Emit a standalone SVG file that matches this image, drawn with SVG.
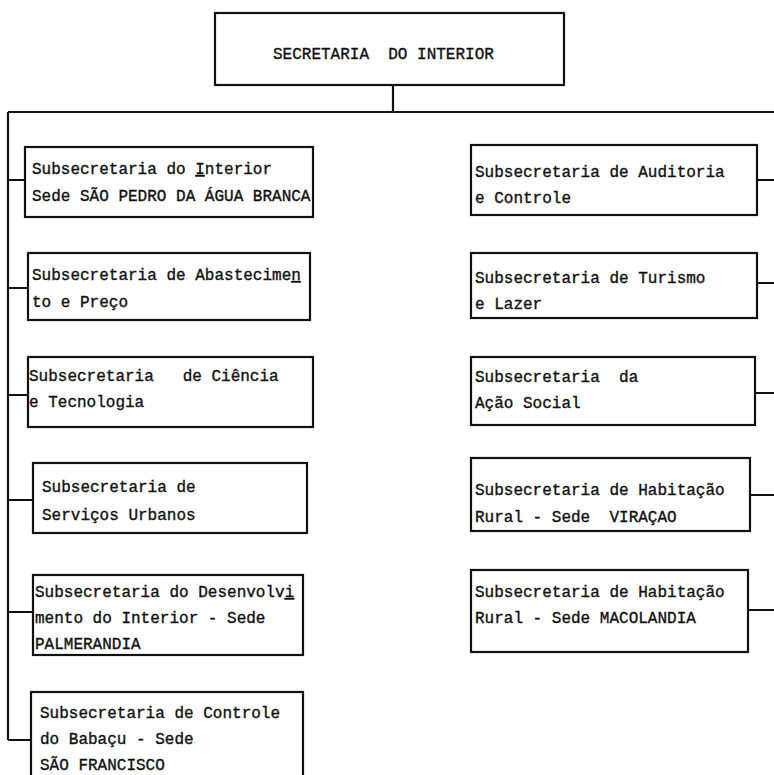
<svg xmlns="http://www.w3.org/2000/svg" width="774" height="775" viewBox="0 0 774 775">
<style>
.box{fill:#fff;stroke:#111;stroke-width:2.2}
.ln{fill:none;stroke:#111;stroke-width:2.2}
text{font-family:"Liberation Mono","DejaVu Sans Mono",monospace;font-size:16px;fill:#111;stroke:#111;stroke-width:0.35}
</style>
<rect width="774" height="775" fill="#fff"/>
<g id="connectors">
<path class="ln" d="M393,85 V112 M8,112 H774 M8,112 V740"/>
<path class="ln" d="M8,180 H25 M8,288 H28 M8,395 H28 M8,500 H33 M8,612 H33 M8,740 H31"/>
<path class="ln" d="M757,180 H774 M757,283 H774 M755,393 H774 M750,495 H774 M748,610 H774"/>
</g>
<g id="n0"><rect class="box" x="215" y="13" width="349" height="72"/><text x="273" y="59" xml:space="preserve">SECRETARIA  DO INTERIOR</text></g>
<g id="l1"><rect class="box" x="25" y="147" width="288" height="70"/><text x="32" y="174">Subsecretaria do <tspan text-decoration="underline">I</tspan>nterior</text><text x="32" y="201">Sede SÃO PEDRO DA ÁGUA BRANCA</text></g>
<g id="l2"><rect class="box" x="28" y="253" width="282" height="67"/><text x="32" y="280">Subsecretaria de Abastecime<tspan text-decoration="underline">n</tspan></text><text x="32" y="307">to e Preço</text></g>
<g id="l3"><rect class="box" x="28" y="357" width="285" height="70"/><text x="29" y="381" xml:space="preserve">Subsecretaria   de Ciência</text><text x="29" y="407">e Tecnologia</text></g>
<g id="l4"><rect class="box" x="33" y="463" width="274" height="70"/><text x="42" y="492">Subsecretaria de</text><text x="42" y="520">Serviços Urbanos</text></g>
<g id="l5"><rect class="box" x="33" y="575" width="270" height="80"/><text x="35" y="597">Subsecretaria do Desenvolv<tspan text-decoration="underline">i</tspan></text><text x="35" y="623">mento do Interior - Sede</text><text x="35" y="649">PALMERANDIA</text></g>
<g id="l6"><rect class="box" x="31" y="692" width="272" height="95"/><text x="40" y="718">Subsecretaria de Controle</text><text x="40" y="744">do Babaçu - Sede</text><text x="40" y="770">SÃO FRANCISCO</text></g>
<g id="r1"><rect class="box" x="471" y="145" width="286" height="70"/><text x="475" y="177">Subsecretaria de Auditoria</text><text x="475" y="203">e Controle</text></g>
<g id="r2"><rect class="box" x="471" y="253" width="286" height="65"/><text x="475" y="283">Subsecretaria de Turismo</text><text x="475" y="309">e Lazer</text></g>
<g id="r3"><rect class="box" x="471" y="357" width="284" height="68"/><text x="475" y="382" xml:space="preserve">Subsecretaria  da</text><text x="475" y="408">Ação Social</text></g>
<g id="r4"><rect class="box" x="471" y="458" width="279" height="73"/><text x="475" y="495">Subsecretaria de Habitação</text><text x="475" y="522" xml:space="preserve">Rural - Sede  VIRAÇAO</text></g>
<g id="r5"><rect class="box" x="471" y="570" width="277" height="82"/><text x="475" y="597">Subsecretaria de Habitação</text><text x="475" y="623">Rural - Sede MACOLANDIA</text></g>
</svg>
